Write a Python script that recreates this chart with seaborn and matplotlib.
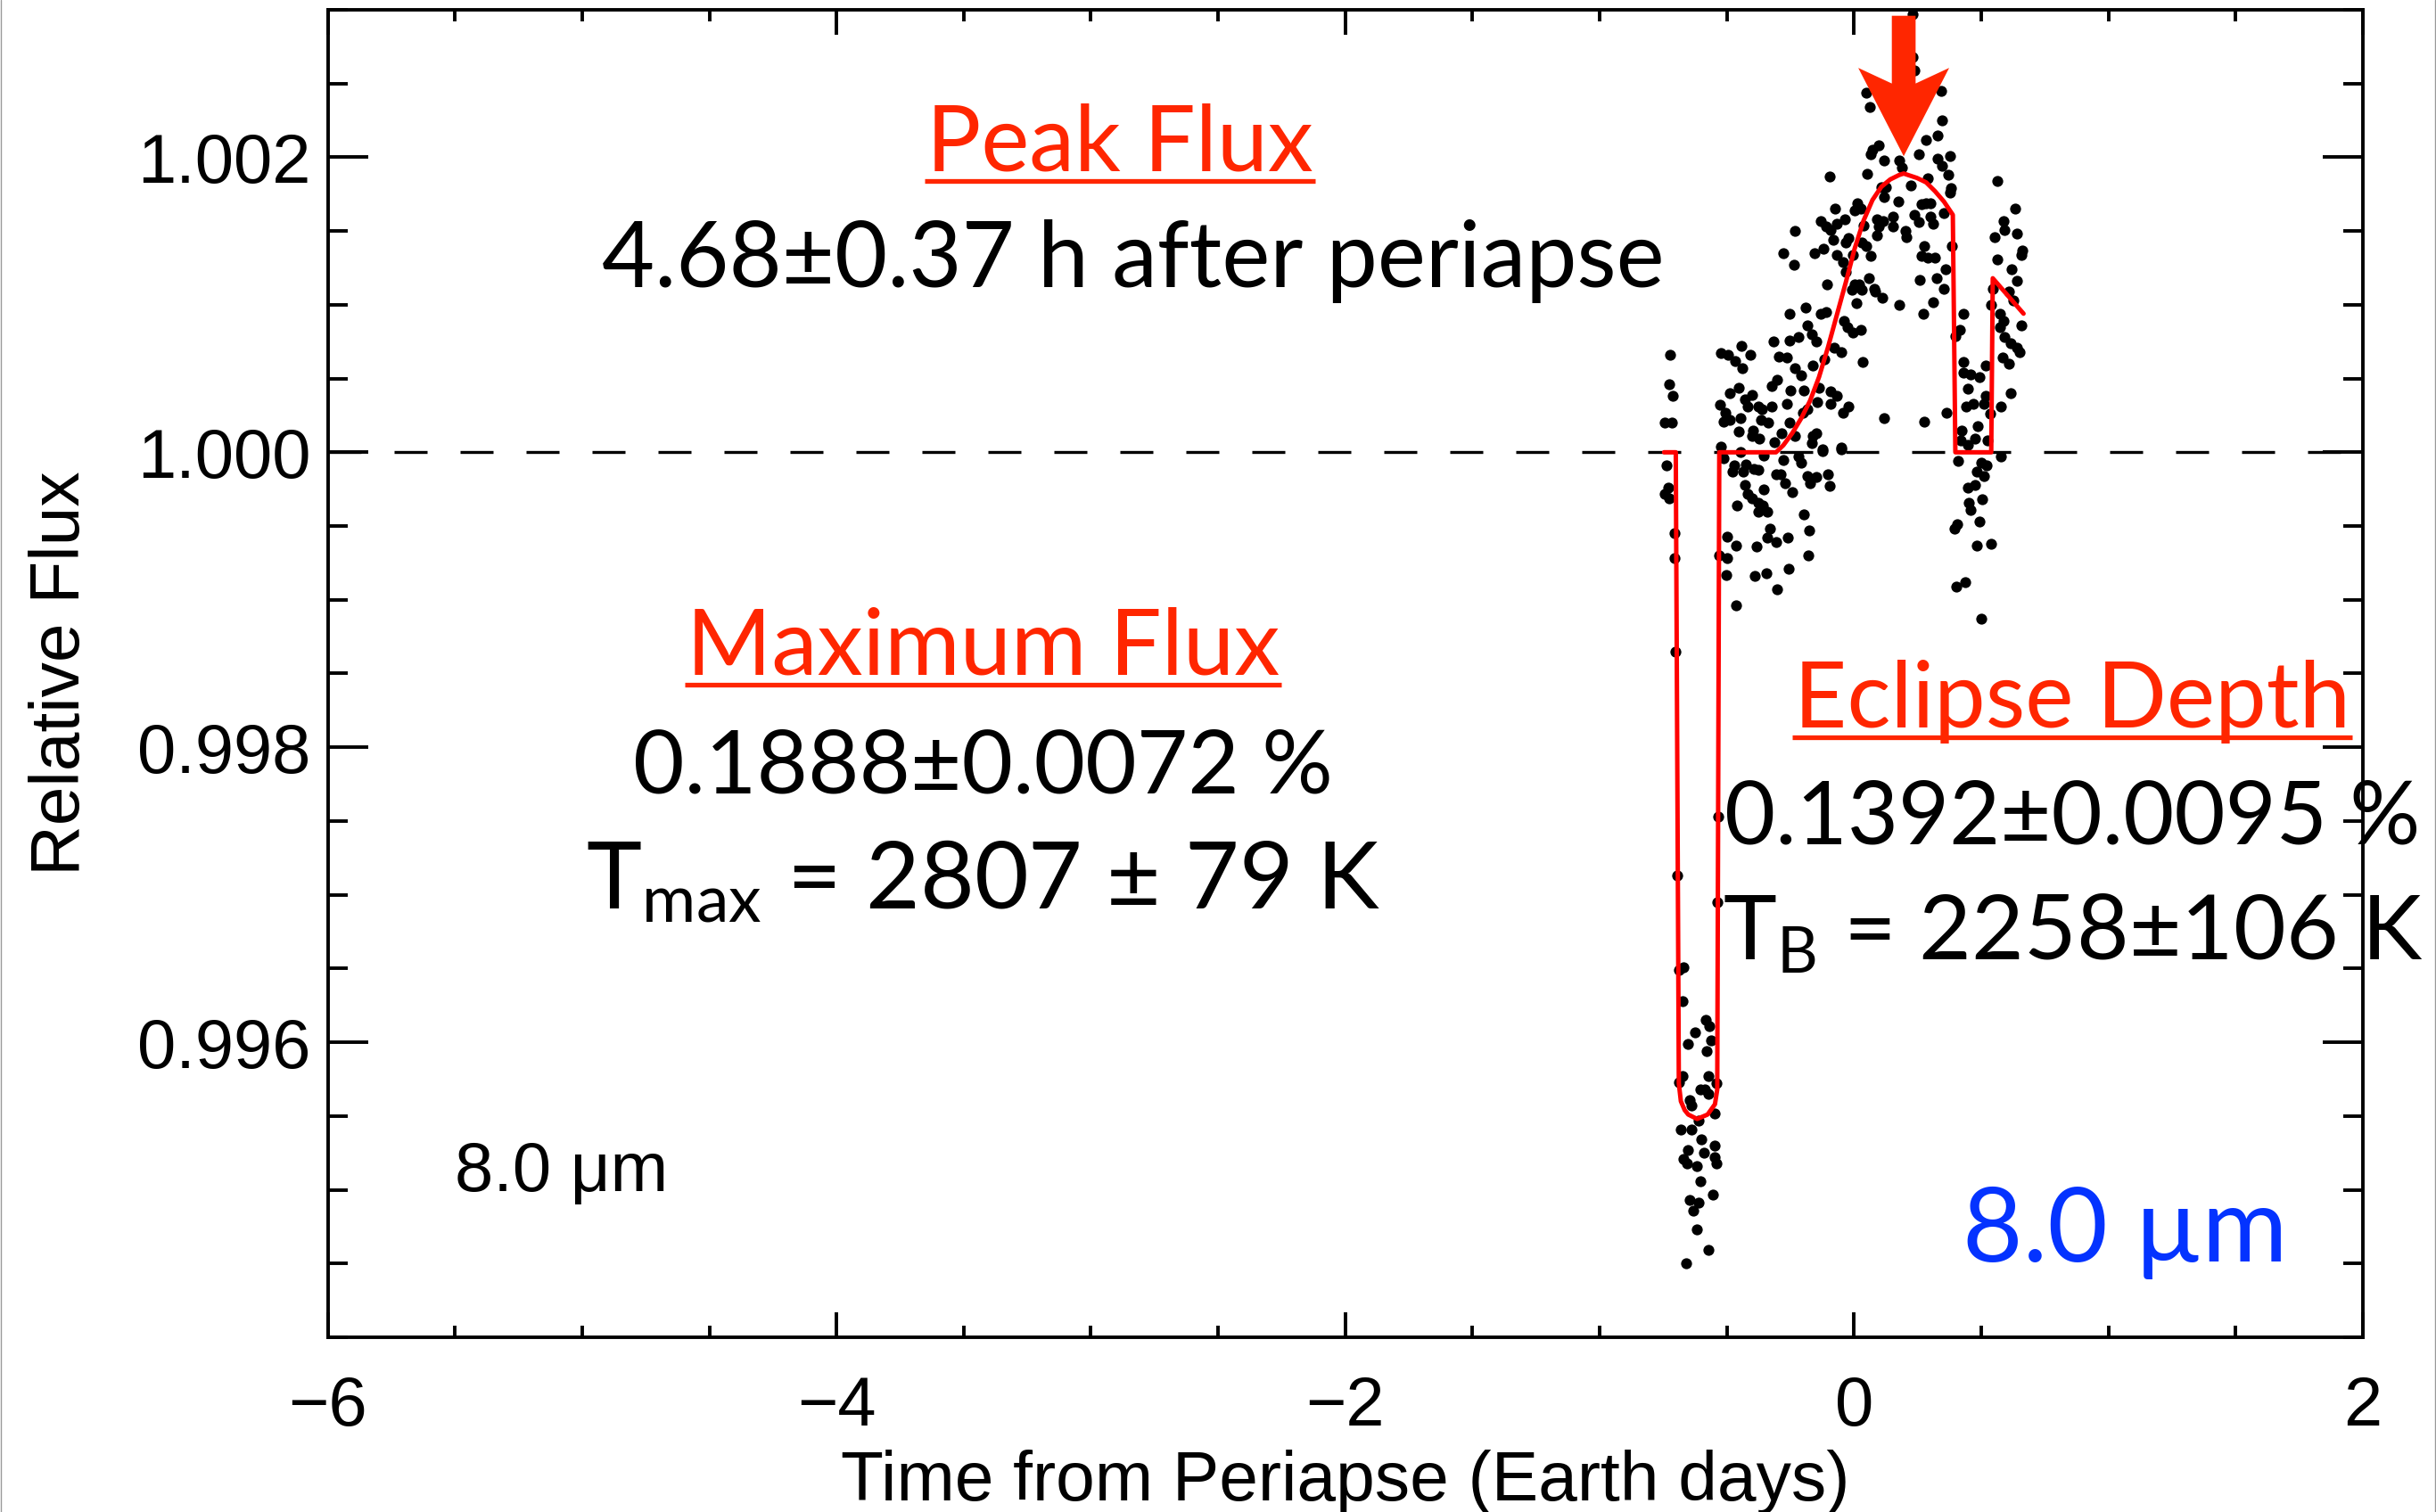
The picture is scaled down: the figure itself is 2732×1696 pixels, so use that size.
import matplotlib
matplotlib.use("Agg")
import matplotlib.pyplot as plt
import matplotlib.transforms as mtransforms
from matplotlib.lines import Line2D
from matplotlib.patches import Polygon
from matplotlib.ticker import FixedLocator, MultipleLocator
import seaborn as sns

# ---------------------------------------------------------------
# 8.0 micron photometry: time from periapse (days), relative flux
# ---------------------------------------------------------------
time_days = [
    # before eclipse
    -0.722, -0.728, -0.713, -0.746, -0.716, -0.736, -0.731, -0.746, -0.728, -0.705, -0.707, -0.702,
    # in eclipse
    -0.695, -0.535, -0.536, -0.690, -0.672, -0.675, -0.582, -0.626, -0.568, -0.562, -0.652, -0.580,
    -0.675, -0.689, -0.571, -0.541, -0.605, -0.588, -0.573, -0.646, -0.640, -0.611, -0.549, -0.681,
    -0.638, -0.600, -0.547, -0.652, -0.591, -0.670, -0.658, -0.547, -0.541, -0.617, -0.603, -0.556,
    -0.646, -0.611, -0.631, -0.619, -0.574, -0.661,
    # after eclipse, above unity
    -0.524, -0.494, -0.468, -0.442, -0.407, -0.438, -0.489, -0.454, -0.430, -0.401, -0.419, -0.526,
    -0.506, -0.512, -0.489, -0.454, -0.448, -0.378, -0.362, -0.366, -0.337, -0.325, -0.397, -0.401,
    -0.372, -0.524, -0.325, -0.304, -0.317, -0.296, -0.266, -0.278, -0.237, -0.232, -0.266, -0.249,
    -0.255, -0.232, -0.208, -0.284, -0.255, -0.232, -0.220, -0.255, -0.191, -0.185, -0.167, -0.150,
    -0.132, -0.109, -0.199, -0.202, -0.185, -0.164, -0.138, -0.144, -0.162, -0.150, -0.167, -0.124,
    -0.117, -0.091, -0.068, -0.091, -0.045, -0.021, -0.080, -0.050, -0.050, -0.105, -0.156, -0.121,
    -0.132, -0.109, -0.091, -0.068, -0.036, -0.074, -0.082, -0.068, -0.045, -0.033, -0.033, -0.021,
    -0.004, 0.014, 0.002, 0.025, 0.037, 0.031, 0.049, 0.066, 0.002, -0.010, 0.020, 0.031,
    0.008, 0.058, 0.078, 0.084, -0.039, -0.027, -0.004, 0.025, 0.035, -0.095, 0.051, 0.090,
    0.090, 0.113, 0.096, 0.109, 0.119, 0.116, 0.107, 0.125, 0.154, 0.152, 0.175, 0.177,
    0.177, 0.189, 0.206, 0.201, 0.224, 0.236, 0.253, 0.265, 0.283, 0.300, 0.265, 0.288,
    0.318, 0.277, 0.257, 0.271, 0.312, 0.323, 0.353, 0.358, 0.300, 0.312, 0.370, 0.382,
    0.376, 0.353, 0.385, 0.288, 0.329, 0.347, 0.376, 0.066, 0.119, 0.274, 0.364, 0.253,
    0.428, 0.417, 0.399, 0.428, 0.428, 0.458, 0.493, 0.446, 0.440, 0.467, 0.516, 0.516,
    0.510, 0.534, 0.577, 0.423, 0.487, 0.475, 0.526, 0.420, 0.446, 0.615, 0.584, 0.607,
    0.592, 0.615, 0.639, 0.651, 0.572, 0.586, 0.575, 0.539, 0.659, 0.627, 0.610, 0.639,
    0.545, 0.619, 0.563, 0.656, 0.662, 0.551, 0.592, 0.586, 0.639, 0.633, 0.563,
    # after eclipse, below unity
    -0.512, -0.471, -0.477, -0.436, -0.424, -0.395, -0.378, -0.448, -0.354, -0.428, -0.419, -0.401,
    -0.378, -0.354, -0.459, -0.360, -0.343, -0.378, -0.307, -0.290, -0.272, -0.278, -0.243, -0.220,
    -0.208, -0.185, -0.173, -0.150, -0.103, -0.097, -0.199, -0.176, -0.331, -0.343, -0.307, -0.261,
    -0.500, -0.465, -0.383, -0.529, -0.498, -0.179, -0.503, -0.389, -0.346, -0.257, -0.302, -0.463,
    -0.124, -0.050, -0.313,
    0.409, 0.577, 0.499, 0.522, 0.481, 0.510, 0.446, 0.475, 0.502, 0.452, 0.458, 0.493,
    0.405, 0.394, 0.481, 0.537, 0.402, 0.437, 0.499,
    # near maximum
    0.230, 0.230, 0.236, 0.049, 0.060, 0.341, 0.347, 0.282, 0.329, 0.072, 0.096,
]

rel_flux = [
    1.00066, 1.00046, 1.00038, 1.00020, 1.00020, 0.99991, 0.99976, 0.99972, 0.99969, 0.99945, 0.99928, 0.99865,
    0.99713, 0.99753, 0.99695, 0.99649, 0.99651, 0.99628, 0.99615, 0.99607, 0.99611, 0.99601, 0.99599, 0.99594,
    0.99577, 0.99573, 0.99577, 0.99572, 0.99568, 0.99568, 0.99565, 0.99561, 0.99557, 0.99547, 0.99552, 0.99541,
    0.99541, 0.99534, 0.99530, 0.99527, 0.99525, 0.99521, 0.99518, 0.99522, 0.99518, 0.99516, 0.99506, 0.99497,
    0.99493, 0.99491, 0.99486, 0.99473, 0.99459, 0.99450,
    1.00067, 1.00066, 1.00062, 1.00072, 1.00066, 1.00057, 1.00040, 1.00044, 1.00036, 1.00039, 1.00031, 1.00032,
    1.00027, 1.00021, 1.00022, 1.00014, 1.00023, 1.00031, 1.00029, 1.00022, 1.00020, 1.00031, 1.00015, 1.00011,
    1.00009, 1.00004, 1.00045, 1.00049, 1.00075, 1.00065, 1.00064, 1.00135, 1.00127, 1.00150, 1.00033, 1.00042,
    1.00094, 1.00057, 1.00052, 1.00013, 1.00020, 1.00011, 1.00078, 1.00076, 1.00098, 1.00086, 1.00080, 1.00075,
    1.00094, 1.00095, 1.00042, 1.00027, 1.00029, 1.00059, 1.00044, 1.00034, 1.00011, 1.00013, 1.00006, 1.00002,
    1.00063, 1.00041, 1.00038, 1.00033, 1.00027, 1.00031, 1.00071, 1.00068, 1.00003, 1.00114, 1.00135, 1.00138,
    1.00157, 1.00153, 1.00151, 1.00155, 1.00158, 1.00165, 1.00144, 1.00134, 1.00129, 1.00122, 1.00142, 1.00145,
    1.00134, 1.00169, 1.00164, 1.00165, 1.00154, 1.00142, 1.00140, 1.00133, 1.00114, 1.00110, 1.00114, 1.00110,
    1.00101, 1.00118, 1.00111, 1.00109, 1.00089, 1.00085, 1.00081, 1.00083, 1.00061, 1.00187, 1.00189, 1.00147,
    1.00158, 1.00157, 1.00153, 1.00105, 1.00023, 1.00173, 1.00180, 1.00180, 1.00160, 1.00153, 1.00170, 1.00100,
    1.00198, 1.00193, 1.00146, 1.00150, 1.00181, 1.00161, 1.00156, 1.00168, 1.00169, 1.00169, 1.00133, 1.00132,
    1.00132, 1.00140, 1.00117, 1.00094, 1.00102, 1.00118, 1.00111, 1.00124, 1.00160, 1.00155, 1.00188, 1.00179,
    1.00176, 1.00162, 1.00140, 1.00186, 1.00199, 1.00194, 1.00201, 1.00202, 1.00198, 1.00021, 1.00027, 1.00202,
    1.00094, 1.00083, 1.00079, 1.00061, 1.00054, 1.00053, 1.00051, 1.00043, 1.00031, 1.00033, 1.00059, 1.00038,
    1.00033, 1.00026, 1.00031, 1.00015, 1.00018, 1.00009, 1.00008, 1.00008, 1.00005, 1.00040, 1.00064, 1.00060,
    1.00078, 1.00074, 1.00071, 1.00068, 1.00094, 1.00089, 1.00085, 1.00100, 1.00086, 1.00103, 1.00109, 1.00116,
    1.00111, 1.00124, 1.00131, 1.00134, 1.00137, 1.00146, 1.00151, 1.00157, 1.00148, 1.00165, 1.00184,
    0.99996, 0.99991, 0.99987, 0.99987, 0.99992, 0.99989, 0.99988, 1.00000, 0.99998, 0.99978, 0.99972, 0.99969,
    0.99966, 0.99975, 0.99964, 0.99964, 0.99960, 0.99960, 0.99985, 0.99985, 0.99979, 0.99995, 0.99973, 0.99997,
    0.99993, 0.99984, 0.99979, 0.99983, 0.99985, 0.99977, 0.99958, 0.99947, 0.99948, 0.99942, 0.99939, 0.99942,
    0.99943, 0.99937, 0.99936, 0.99930, 0.99928, 0.99930, 0.99917, 0.99916, 0.99918, 0.99921, 0.99907, 0.99896,
    1.00001, 1.00002, 1.00007,
    0.99994, 0.99997, 0.99993, 0.99991, 0.99987, 0.99984, 0.99976, 0.99978, 0.99968, 0.99966, 0.99961, 0.99953,
    0.99951, 0.99948, 0.99937, 0.99938, 0.99909, 0.99912, 0.99887,
    1.00297, 1.00268, 1.00259, 1.00244, 1.00234, 1.00245, 1.00225, 1.00212, 1.00215, 1.00205, 1.00208,
]

# best-fit model: eclipse, phase variation and transit
model_time = [
    -0.747, -0.701, -0.689, -0.681, -0.666, -0.652, -0.617, -0.576, -0.547, -0.538, -0.530,
    -0.307, -0.278, -0.243, -0.208, -0.173, -0.138, -0.103, -0.068, -0.033, 0.002, 0.037,
    0.072, 0.107, 0.142, 0.177, 0.195, 0.212, 0.247, 0.283, 0.318, 0.353, 0.388,
    0.398, 0.539, 0.545, 0.666,
]
model_flux = [
    1.00000, 1.00000, 0.99572, 0.99560, 0.99554, 0.99551, 0.99548, 0.99551, 0.99558, 0.99568, 1.00000,
    1.00000, 1.000048, 1.00013, 1.00023, 1.00035, 1.00051, 1.00071, 1.00093, 1.00115, 1.00138, 1.00157,
    1.00171, 1.00180, 1.00185, 1.00188, 1.00189, 1.00188, 1.00186, 1.00183, 1.00177, 1.00170, 1.00161,
    1.00000, 1.00000, 1.00118, 1.00094,
]

peak_time_hours = 4.68
baseline_flux = 1.0

x_ticks = [-6, -4, -2, 0, 2]
y_ticks = [0.996, 0.998, 1.000, 1.002]
y_tick_labels = ["0.996", "0.998", "1.000", "1.002"]

RED = "#FF2600"
BLUE = "#0433FF"
HUMANIST = ["Lato", "DejaVu Sans"]
PM = "\u00b1"

sns.set_theme(style="ticks")
plt.rcParams["font.family"] = ["Liberation Sans", "DejaVu Sans"]
plt.rcParams["mathtext.fontset"] = "custom"
plt.rcParams["mathtext.rm"] = "Lato"
plt.rcParams["mathtext.it"] = "Lato:italic"
plt.rcParams["mathtext.bf"] = "Lato:bold"
plt.rcParams["axes.unicode_minus"] = True

fig = plt.figure(figsize=(27.32, 16.96), dpi=100)
fig.patch.set_facecolor("white")
ax = fig.add_axes([0.13455, 0.11557, 0.83544, 0.87795])
ax.set_facecolor("white")

# unit-flux reference
ax.axhline(baseline_flux, color="black", lw=2.4, dashes=(11.1, 11.1), zorder=1)

sns.scatterplot(x=time_days, y=rel_flux, color="black", s=78, linewidth=0,
                ax=ax, zorder=3, legend=False)
sns.lineplot(x=model_time, y=model_flux, sort=False, estimator=None, color="#FF0000",
             lw=3.6, ax=ax, zorder=4, legend=False)

ax.set_xlim(-6, 2)
ax.set_ylim(0.994, 1.003)

ax.xaxis.set_major_locator(FixedLocator(x_ticks))
ax.xaxis.set_minor_locator(MultipleLocator(0.5))
ax.yaxis.set_major_locator(FixedLocator(y_ticks))
ax.yaxis.set_minor_locator(MultipleLocator(0.0005))
ax.set_yticklabels(y_tick_labels)

ax.tick_params(axis="both", which="both", direction="in", top=True, right=True,
               width=2.8, color="black", labelcolor="black")
ax.tick_params(axis="x", which="major", length=20.4, pad=30, labelsize=56)
ax.tick_params(axis="x", which="minor", length=9.7)
ax.tick_params(axis="y", which="major", length=32.3, pad=14, labelsize=56)
ax.tick_params(axis="y", which="minor", length=15.9)
for spine in ax.spines.values():
    spine.set_linewidth(2.8)
    spine.set_color("black")

ax.set_xlabel("Time from Periapse (Earth days)", fontsize=56.5, color="black")
ax.set_ylabel("Relative Flux", fontsize=56.5, color="black")
ax.xaxis.set_label_coords(0.5, -0.0846)
ax.yaxis.set_label_coords(-0.1150, 0.5)


def note(xf, yf, text, size, color="black", ha="center"):
    return ax.text(xf, yf, text, transform=ax.transAxes, ha=ha, va="baseline",
                   fontsize=size, color=color, family=HUMANIST, zorder=6)


peak_title = note(0.3894, 0.8787, "Peak Flux", 73.5, RED)
note(0.3955, 0.7913, f"{peak_time_hours:.2f}{PM}0.37 h after periapse", 73.5)

max_title = note(0.3220, 0.4990, "Maximum Flux", 74, RED)
note(0.3220, 0.4103, f"0.1888{PM}0.0072 %", 71.5)
note(0.3220, 0.3224, r"T$_\mathrm{max}$ = 2807 " + PM + " 79 K", 75.5)

ecl_title = note(0.8573, 0.4594, "Eclipse Depth", 74, RED)
note(0.8573, 0.3716, f"0.1392{PM}0.0095 %", 71)
note(0.8574, 0.2843, r"T$_\mathrm{B}$ = 2258" + PM + "106 K", 73)

note(0.8833, 0.0571, "8.0 \u00b5m", 84, BLUE)
ax.text(0.0623, 0.1101, "8.0 \u03bcm", transform=ax.transAxes, ha="left", va="baseline",
        fontsize=56, color="black", zorder=6)

# arrow marking the time of peak flux, drawn in points above the model maximum
peak_time = peak_time_hours / 24.0
peak_flux = max(model_flux)
arrow_pts = [(0, 14), (36.7, 85.3), (9.6, 72.7), (9.6, 127.4),
             (-9.6, 127.4), (-9.6, 72.7), (-36.7, 85.3)]
arrow_tr = (mtransforms.Affine2D().scale(fig.dpi / 72.0)
            + mtransforms.ScaledTranslation(peak_time, peak_flux, ax.transData))
ax.add_artist(Polygon(arrow_pts, closed=True, transform=arrow_tr, facecolor=RED,
                      edgecolor="none", zorder=7, clip_on=False))

# underline the red headings
fig.canvas.draw()
renderer = fig.canvas.get_renderer()
to_fig = fig.transFigure.inverted()
for title in (peak_title, max_title, ecl_title):
    bb = title.get_window_extent(renderer)
    base_y = ax.transAxes.transform(title.get_position())[1] - 11
    (x0, y0), (x1, _) = to_fig.transform([(bb.x0 - 2, base_y), (bb.x1 + 2, base_y)])
    fig.add_artist(Line2D([x0, x1], [y0, y0], transform=fig.transFigure, color=RED,
                          lw=3.8, solid_capstyle="butt"))

# thin frame at the left and right edges of the page
for xe in (0.5 / 2732, 2730.5 / 2732):
    fig.add_artist(Line2D([xe, xe], [0, 1], transform=fig.transFigure, color="0.6", lw=1.0))

fig.savefig("out.png", dpi=100, facecolor="white")
